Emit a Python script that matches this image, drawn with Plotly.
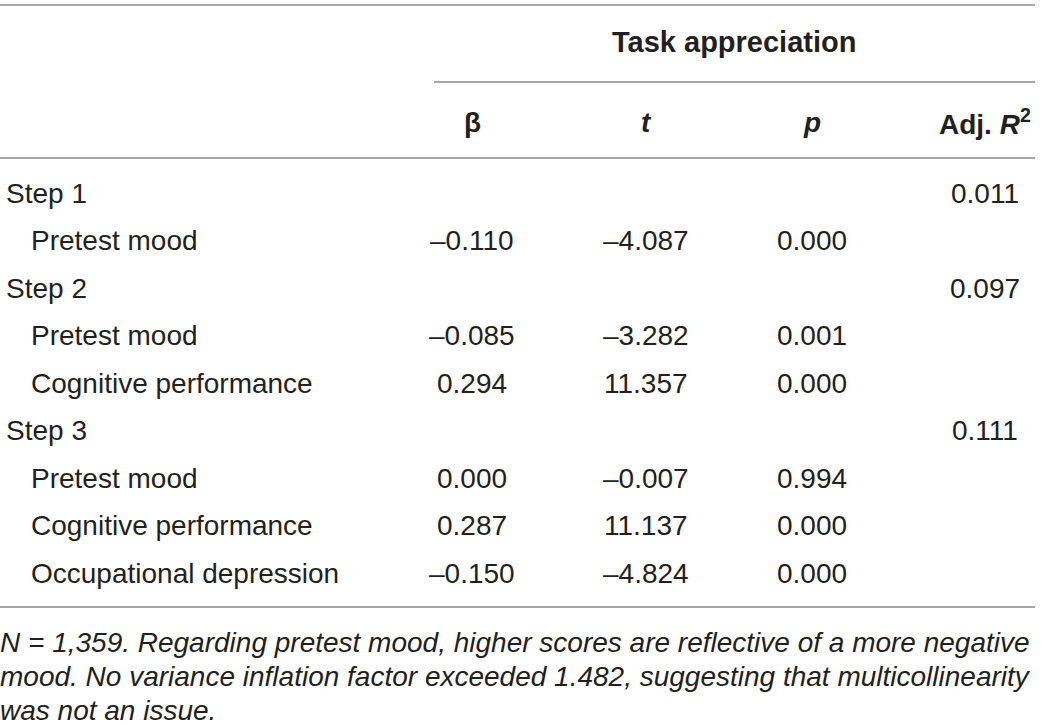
import plotly.graph_objects as go

row_labels = ["Step 1", "Pretest mood", "Step 2", "Pretest mood", "Cognitive performance",
              "Step 3", "Pretest mood", "Cognitive performance", "Occupational depression"]
row_indent = [0, 1, 0, 1, 1, 0, 1, 1, 1]
beta = ["", "\u20130.110", "", "\u20130.085", "0.294", "", "0.000", "0.287", "\u20130.150"]
t_vals = ["", "\u20134.087", "", "\u20133.282", "11.357", "", "\u20130.007", "11.137", "\u20134.824"]
p_vals = ["", "0.000", "", "0.001", "0.000", "", "0.994", "0.000", "0.000"]
adj_r2 = ["0.011", "", "0.097", "", "", "0.111", "", "", ""]
col_headers = ["\u03b2", "<i>t</i>", "<i>p</i>", "Adj. <i>R</i><sup>2</sup>"]
group_header = "Task appreciation"
footnote_lines = [
    "N = 1,359. Regarding pretest mood, higher scores are reflective of a more negative",
    "mood. No variance inflation factor exceeded 1.482, suggesting that multicollinearity",
    "was not an issue.",
]

W, H = 1041, 726
FONT = "Liberation Sans, Arial, Helvetica, sans-serif"
TXT = "#231f20"
LINE = "#8a8a8a"
FS = 28

col_x = [472, 646, 812, 985]
row_y0, row_dy = 193, 47.5

fig = go.Figure()
ann = []

def add(x, y, text, xanchor="center", size=FS, bold=False, xshift=0):
    if bold:
        text = "<b>" + text + "</b>"
    ann.append(dict(x=x, y=y, xref="x", yref="y", text=text, showarrow=False,
                    xanchor=xanchor, yanchor="middle", xshift=xshift,
                    font=dict(family=FONT, size=size, color=TXT)))

add(734, 42, group_header, bold=True, size=29)
for i, h in enumerate(col_headers):
    add(col_x[i], 122, h, bold=True)

for r, lab in enumerate(row_labels):
    y = row_y0 + r * row_dy
    add(4 + 25 * row_indent[r], y, lab, xanchor="left")
    for c, col in enumerate([beta, t_vals, p_vals, adj_r2]):
        if col[r]:
            add(col_x[c], y, col[r])

fn_y = [642, 676, 710]
for k, line in enumerate(footnote_lines):
    add(0, fn_y[k], "<i>" + line + "</i>", xanchor="left", size=28, xshift=-2)

shapes = []
for (x0, x1, y) in [(0, 1035, 5), (434, 1035, 82), (0, 1035, 158), (0, 1035, 607)]:
    shapes.append(dict(type="line", xref="x", yref="y", x0=x0, x1=x1, y0=y, y1=y,
                       line=dict(color=LINE, width=1.5)))

fig.update_layout(
    width=W, height=H, margin=dict(l=0, r=0, t=0, b=0),
    paper_bgcolor="white", plot_bgcolor="white",
    xaxis=dict(range=[0, W], visible=False, fixedrange=True),
    yaxis=dict(range=[H, 0], visible=False, fixedrange=True),
    annotations=ann, shapes=shapes, showlegend=False,
)
fig.write_html("out.html", config={"displayModeBar": False},
               post_script="document.body.style.margin='0';document.body.style.overflow='hidden';")
